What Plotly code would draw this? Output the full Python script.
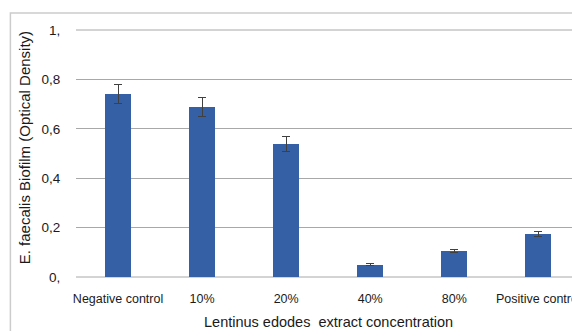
import plotly.graph_objects as go

categories = ["Negative control", "10%", "20%", "40%", "80%", "Positive control"]
values = [0.74, 0.688, 0.538, 0.05, 0.105, 0.175]
errors = [0.038, 0.038, 0.03, 0.004, 0.006, 0.009]
ytick_vals = [0, 0.2, 0.4, 0.6, 0.8, 1.0]
ytick_text = ["0,", "0,2", "0,4", "0,6", "0,8", "1,"]

FONT = "Liberation Sans"
OFF = 8  # default body margin of the page
W, H = 580 - OFF, 331 - OFF
L, T, B, R = 76 - OFF, 30 - OFF, 54, 0
pw, ph = W - L - R, H - T - B
GRID = "#a8a8a8"

fig = go.Figure(go.Bar(
    x=list(range(len(categories))), y=values, width=0.31,
    marker=dict(color="#3560A6", line=dict(width=0)),
    error_y=dict(type="data", array=errors, color="#404040", thickness=1, width=4),
))

fig.update_layout(
    width=W, height=H, margin=dict(l=L, r=R, t=T, b=B),
    paper_bgcolor="white", plot_bgcolor="white", showlegend=False,
    font=dict(family=FONT, size=12, color="#262626"),
    xaxis=dict(range=[-0.5, 5.46], tickvals=list(range(len(categories))), ticktext=categories,
               showgrid=False, zeroline=False, showline=False, ticks="outside", ticklen=10,
               tickcolor="rgba(0,0,0,0)", ticklabeloverflow="allow",
               tickfont=dict(family=FONT, size=12.5, color="#1a1a1a")),
    yaxis=dict(range=[0, 1.0], tickvals=ytick_vals, ticktext=ytick_text,
               showgrid=True, gridcolor=GRID, gridwidth=1, zeroline=False, showline=False,
               ticks="outside", ticklen=12, tickcolor="rgba(0,0,0,0)",
               tickfont=dict(family=FONT, size=13.5, color="#1a1a1a")),
    bargap=0,
)

for yp in (0, 1):
    fig.add_shape(type="line", xref="paper", yref="paper", x0=0, x1=1, y0=yp, y1=yp,
                  line=dict(color=GRID, width=1), layer="below")

fig.add_shape(type="rect", xref="paper", yref="paper",
              x0=(10 - OFF - L) / pw, x1=1.2, y0=-0.4, y1=(H - B - (13 - OFF)) / ph,
              line=dict(color="#cccccc", width=1.5), fillcolor="rgba(0,0,0,0)")

fig.add_annotation(text="E. faecalis Biofilm (Optical Density)", textangle=-90,
                   xref="paper", yref="paper", x=(24 - OFF - L) / pw, y=(H - B - (148 - OFF)) / ph,
                   xanchor="center", yanchor="middle",
                   showarrow=False, font=dict(family=FONT, size=15, color="#1a1a1a"))
fig.add_annotation(text="Lentinus edodes  extract concentration",
                   xref="paper", yref="paper", x=(330 - OFF - L) / pw, y=(H - B - (322 - OFF)) / ph,
                   xanchor="center", yanchor="middle",
                   showarrow=False, font=dict(family=FONT, size=14.5, color="#1a1a1a"))

fig.write_html("out.html")
